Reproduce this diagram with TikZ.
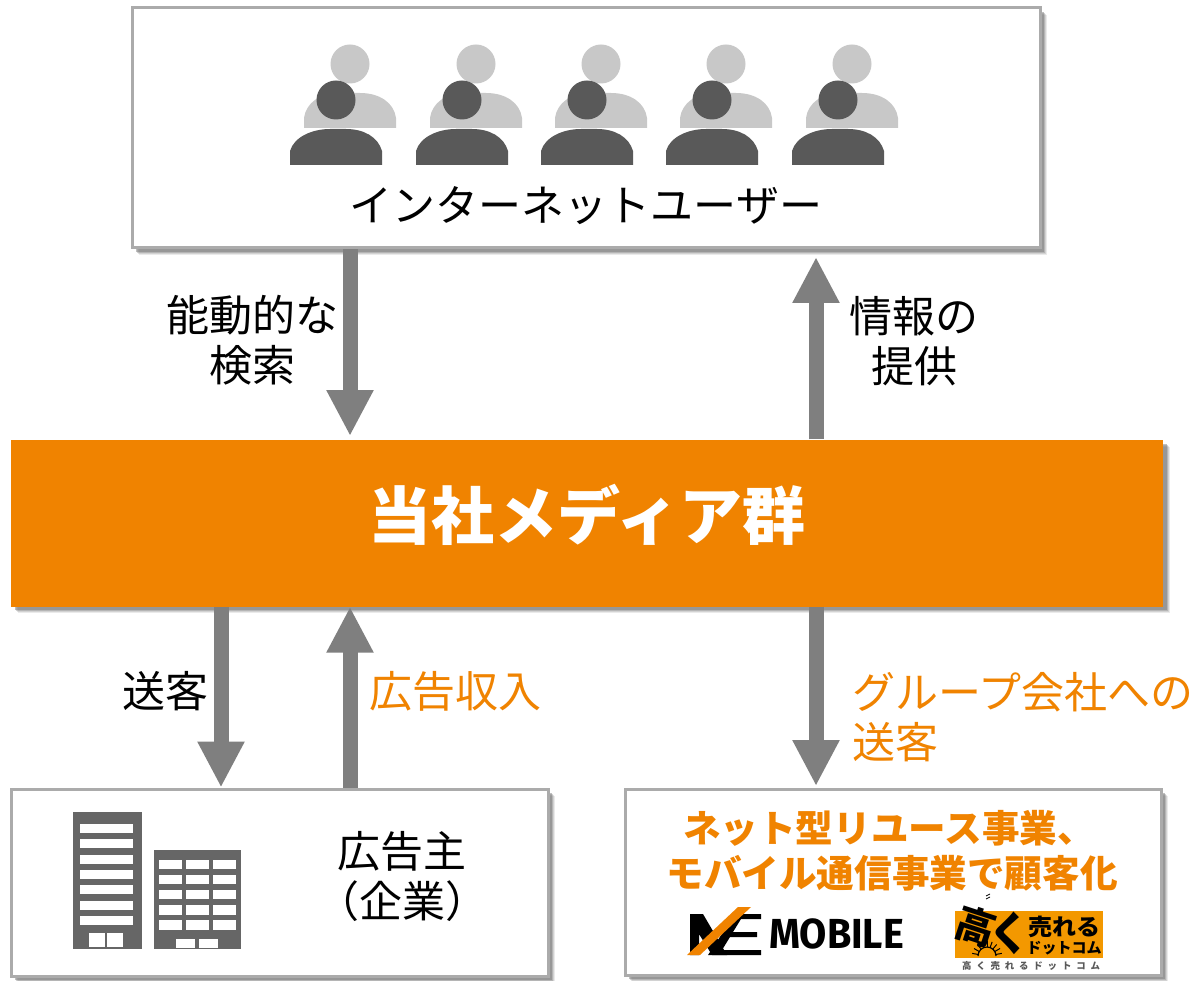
\documentclass[tikz,border=0pt]{standalone}
\usepackage{fontspec}
\setmainfont{Noto Sans CJK JP}
\newfontfamily\latinb{Fira Sans}
\newfontfamily\spaced{Noto Sans CJK JP}[LetterSpace=52]
\usetikzlibrary{arrows.meta,calc}
\definecolor{orangeM}{HTML}{F08300}
\definecolor{arrowG}{HTML}{7F7F7F}
\definecolor{edgeG}{HTML}{ABABAB}
\definecolor{darkP}{HTML}{595959}
\definecolor{lightP}{HTML}{C8C8C8}
\definecolor{bldg}{HTML}{666666}
\definecolor{logoO}{HTML}{F39800}
\tikzset{
 x=1pt,y=-1pt,
 boxW/.style={draw=edgeG,line width=3pt,fill=white,inner sep=0pt},
 flow/.style={draw=arrowG,line width=15pt,-{Triangle[width=44pt,length=46pt]}},
 lab/.style={font=\fontsize{43}{50}\selectfont,align=center,inner sep=0pt,text=black},
 labO/.style={lab,text=orangeM},
 head/.style={font=\bfseries\fontsize{37.6}{49}\selectfont,align=center,inner sep=0pt,text=orangeM},
}
\newcommand{\shadowbox}[4]{%
 \foreach \d/\o in {7/.15,6/.2,5/.3,4/.45}{\fill[black!55,opacity=\o] (#1+\d,#2+\d) rectangle (#3+\d,#4+\d);}}
\newcommand{\person}[2]{%
 \begin{scope}[shift={(#1,#2)}]
 \fill[lightP] (60,23) circle (19.5);
 \fill[lightP] (14,88) -- (14,77) .. controls (16,62) and (30,52) .. (48,52) -- (70,52) .. controls (90,52) and (104,62) .. (106,77) -- (106,88) -- cycle;
 \fill[white] (-1,87.5) rectangle (107,88.5);
 \fill[darkP] (0,124) -- (0,110) .. controls (4,96) and (22,88) .. (40,88) -- (56,88) .. controls (74,88) and (88,96) .. (92,110) -- (92,124) -- cycle;
 \fill[darkP] (46,59) circle (19.5);
 \end{scope}}
\begin{document}
\begin{tikzpicture}
\useasboundingbox (0,0) rectangle (1198,981);
\fill[white] (0,0) rectangle (1198,981);
% shadows
\shadowbox{132}{8}{1040}{248}
\shadowbox{11}{789}{548}{976}
\shadowbox{625}{789}{1161}{975}
\shadowbox{11}{440}{1163}{606}
% boxes
\node[boxW,minimum width=908pt,minimum height=240pt] (users) at (586,128) {};
\node[fill=orangeM,minimum width=1152pt,minimum height=167pt,inner sep=0pt] (media) at (587,523) {};
\node[inner sep=0pt,text=white,font=\bfseries\fontsize{63}{70}\selectfont] (medialabel) at (587,515) {当社メディア群};
\node[boxW,minimum width=537pt,minimum height=187pt] (adv) at (279.5,882.5) {};
\node[boxW,minimum width=536pt,minimum height=186pt] (group) at (893,882) {};
% people
\foreach \px in {290,416,541,666,792}{\person{\px}{41}}
\node[lab] (userlabel) at (586,206) {インターネットユーザー};
% connector ends
\coordinate (a1) at (350,249);
\coordinate (a1e) at (350,436);
\coordinate (a2) at (816,440);
\coordinate (a2e) at (816,257);
\coordinate (a3) at (221,607);
\coordinate (a4) at (350,788);
\coordinate (a5) at (816,607);
\coordinate (a5e) at (816,786);
\draw[flow] (users.south -| a1) -- (a1e);
\draw[flow] (media.north -| a2) -- (a2e);
\draw[flow] (media.south -| a3) -- (adv.north -| a3);
\draw[flow] (adv.north -| a4) -- (media.south -| a4);
\draw[flow] (media.south -| a5) -- (a5e);
% labels
\node[lab] (l1) at (252,340) {能動的な\\[0pt]検索};
\node[lab] (l2) at (914,341) {情報の\\[0pt]提供};
\node[lab] (l3) at (165,691) {送客};
\node[labO] (l4) at (455,691) {広告収入};
\node[labO,align=left,anchor=west] (l5) at (852,717) {グループ会社への\\[0pt]送客};
% advertiser
\node[lab] (l6) at (402,876) {広告主\\[0pt]（企業）};
\begin{scope}[shift={(73,812)}]
 \fill[bldg] (0,0) rectangle (69,137);
 \foreach \i in {0,...,6}{\fill[white] (7,{12+15.3*\i}) rectangle (60,{21+15.3*\i});}
 \fill[white] (16,121) rectangle (32,135);
 \fill[white] (34,121) rectangle (50,135);
\end{scope}
\begin{scope}[shift={(154,850)}]
 \fill[bldg] (0,0) rectangle (87,99);
 \foreach \i in {0,...,4}{\foreach \j in {0,1,2}{
  \fill[white] ({5+27*\j},{9.5+15.2*\i}) rectangle ({28+27*\j},{19+15.2*\i});}}
 \fill[white] (22,89) rectangle (41,98);
 \fill[white] (45,89) rectangle (64,98);
\end{scope}
% group box text
\node[head] (h1) at (889,828) {ネット型リユース事業、};
\node[head] (h2) at (892,873) {モバイル通信事業で顧客化};
% ME logo
\fill[black] (690,914) -- (703,914) -- (727,955) -- (712,955) -- (699,934) -- (699,955) -- (690,955) -- cycle;
\fill[black] (735,914) -- (761,914) -- (761,919) -- (741,919) -- (733,932) -- (757,932) -- (757,937) -- (730,937) -- (722,950) -- (761,950) -- (761,955) -- (708,955) -- cycle;
\fill[orangeM] (687,955) -- (738,907) -- (751,907) -- (700,955) -- cycle;
\node[font=\latinb\bfseries,inner sep=0pt,text=black] (mobile) at (836.5,933.5) {\fontsize{42}{42}\selectfont\scalebox{.94}[1]{MOBILE}};
% takaku logo
\fill[logoO] (955,911) rectangle (1103,958);
\node[font=\bfseries\fontsize{24}{24}\selectfont,inner sep=0pt] (t1) at (1064,927) {\scalebox{1}[.95]{売れる}};
\node[font=\bfseries\fontsize{15}{15}\selectfont,inner sep=0pt] (t2) at (1064,948) {ドットコム};
\node[font=\bfseries\fontsize{44}{44}\selectfont,inner sep=0pt,rotate=-18] (t3) at (976,926) {\scalebox{.9}[.9]{高}};
\node[font=\bfseries\fontsize{42}{42}\selectfont,inner sep=0pt] (t4) at (1009,933) {\scalebox{.95}[1.1]{く}};
% sun of the takaku logo
\foreach \a in {-170,-150,...,-10}{\draw[black,line width=1pt] ($(987,956)+(\a:9)$) -- ($(987,956)+(\a:15)$);}
\draw[black,line width=1.2pt] (978,956) arc[start angle=180,end angle=0,radius=9pt];
\draw[black,line width=.8pt] (986,896) -- (990,894) (986,899) -- (990,897);
\node[font=\spaced\bfseries\fontsize{9.4}{10}\selectfont,inner sep=0pt,text=darkP] (t5) at (1031,966) {高く売れるドットコム};
\end{tikzpicture}
\end{document}
